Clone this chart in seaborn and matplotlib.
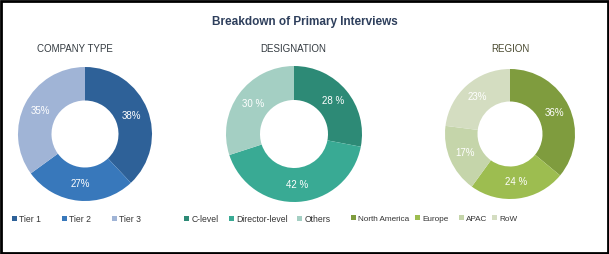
import matplotlib
matplotlib.use("Agg")
import matplotlib.pyplot as plt
import seaborn as sns
import numpy as np
from matplotlib.patches import Rectangle, Patch

sns.set_theme(style="white")
plt.rcParams['font.family'] = ['Liberation Sans Narrow', 'Liberation Sans', 'DejaVu Sans']

title = "Breakdown of Primary Interviews"

company_labels = ["Tier 1", "Tier 2", "Tier 3"]
company_values = [38, 27, 35]
company_colors = ["#2e6198", "#3878bb", "#a0b4d6"]
company_texts = ["38%", "27%", "35%"]

design_labels = ["C-level", "Director-level", "Others"]
design_values = [28, 42, 30]
design_colors = ["#2d8a76", "#39aa94", "#a4cfc3"]
design_texts = ["28 %", "42 %", "30 %"]

region_labels = ["North America", "Europe", "APAC", "RoW"]
region_values = [36, 24, 17, 23]
region_colors = ["#7f9c3e", "#9dbd50", "#c5d5aa", "#d4ddc1"]
region_texts = ["36%", "24 %", "17%", "23%"]

W, H = 609, 254
fig = plt.figure(figsize=(W / 100, H / 100), dpi=100)
fig.patch.set_facecolor("white")

def px_axes(cx, cy, r):
    return fig.add_axes([(cx - r) / W, (H - cy - r) / H, 2 * r / W, 2 * r / H])

pies = [
    ("COMPANY TYPE", company_labels, company_values, company_colors, company_texts,
     (85, 134, 67), 75, [15, 65, 115], 6.2),
    ("DESIGNATION", design_labels, design_values, design_colors, design_texts,
     (294, 134, 68), 293, [187, 232, 300], 6.2),
    ("REGION", region_labels, region_values, region_colors, region_texts,
     (510, 134, 65), 510, [354, 418, 462, 495], 5.9),
]

for name, labels, values, colors, texts, (cx, cy, r), tx, lxs, lfs in pies:
    ax = px_axes(cx, cy, r)
    wedges, _ = ax.pie(values, colors=colors, startangle=90, counterclock=False,
                       radius=1.0, wedgeprops=dict(width=0.5, edgecolor="none"))
    cum = np.cumsum([0] + values[:-1])
    for v, c, t in zip(values, cum, texts):
        ang = np.deg2rad(90 - (c + v / 2) / sum(values) * 360)
        ax.text(0.75 * np.cos(ang), 0.75 * np.sin(ang), t, color="white",
                ha="center", va="center", fontsize=7)
    ax.set_xlim(-1, 1)
    ax.set_ylim(-1, 1)
    ax.set_aspect("equal")
    ax.axis("off")
    fig.text(tx / W, 1 - 49 / H, name, ha="center", va="center", fontsize=7,
             color="#333a40" if name != "REGION" else "#4a4a30")
    for lab, col, lx in zip(labels, colors, lxs):
        h = Patch(facecolor=col, edgecolor="none")
        fig.legend([h], [lab], loc="center left", bbox_to_anchor=((lx - 3) / W, 1 - 219 / H),
                   frameon=False, fontsize=lfs, handlelength=0.6, handleheight=0.6,
                   handletextpad=0.25, borderaxespad=0, borderpad=0,
                   labelcolor="#333333")

fig.text(0.5, 1 - 22 / H, title, ha="center", va="center", fontsize=8.5,
         fontweight="bold", color="#2e3f5c")

fig.add_artist(Rectangle((0.0015, 0.003), 0.997, 0.994, transform=fig.transFigure,
                         fill=False, edgecolor="black", linewidth=2))

fig.savefig("out.png", dpi=100, facecolor="white")
